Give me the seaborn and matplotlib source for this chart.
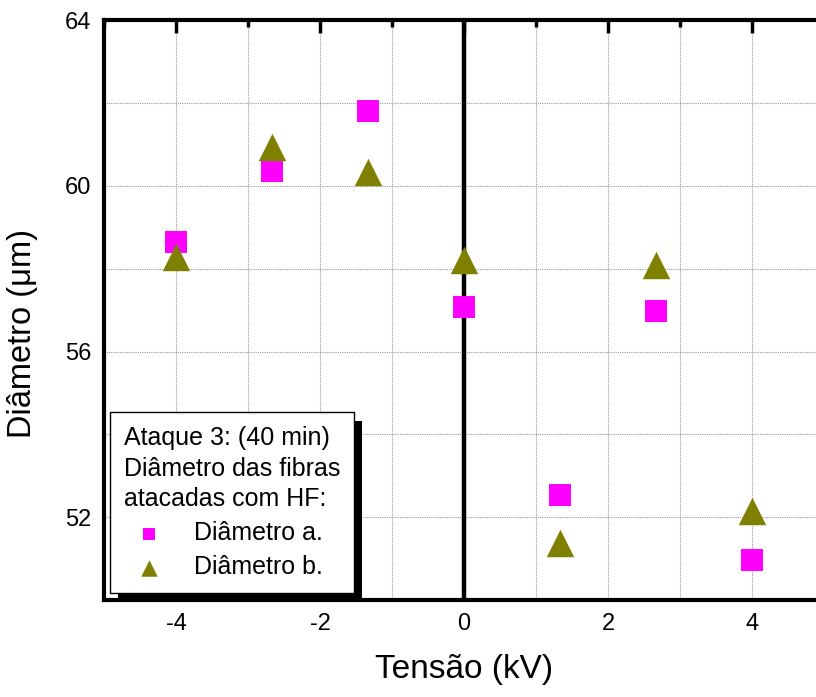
import numpy as np
import pandas as pd
import seaborn as sns
import matplotlib
matplotlib.use("Agg")
import matplotlib.pyplot as plt
from matplotlib import patheffects
from matplotlib.ticker import MultipleLocator

# data
tensao = [-4.0, -2.67, -1.33, 0.0, 1.33, 2.67, 4.0]
diam_a = [58.64, 60.35, 61.80, 57.07, 52.53, 56.97, 50.96]
diam_b = [58.28, 60.94, 60.34, 58.20, 51.37, 58.08, 52.16]

df_a = pd.DataFrame({"Tensao": tensao, "Diametro": diam_a})
df_b = pd.DataFrame({"Tensao": tensao, "Diametro": diam_b})

sns.set_style("white", {"text.color": "black", "axes.labelcolor": "black",
                        "xtick.color": "black", "ytick.color": "black"})
plt.rcParams["font.family"] = ["Liberation Sans", "DejaVu Sans"]
plt.rcParams["axes.unicode_minus"] = False

fig = plt.figure(figsize=(8.16, 6.97), dpi=100)
ax = fig.add_axes([0.1275, 0.139, 0.8824, 0.832])

sns.scatterplot(data=df_a, x="Tensao", y="Diametro", marker="s", s=230,
                color="#ff00ff", edgecolor="#ff00ff", linewidth=0,
                label="Diâmetro a.", ax=ax, zorder=3)
sns.scatterplot(data=df_b, x="Tensao", y="Diametro", marker="^", s=390,
                color="#808000", edgecolor="#808000", linewidth=0,
                label="Diâmetro b.", ax=ax, zorder=3)

ax.axvline(0, color="black", lw=3.2, zorder=2)

ax.set_xlim(-5, 5)
ax.set_ylim(50, 64)
ax.xaxis.set_major_locator(MultipleLocator(2))
ax.xaxis.set_minor_locator(MultipleLocator(1))
ax.yaxis.set_major_locator(MultipleLocator(4))
ax.yaxis.set_minor_locator(MultipleLocator(2))

ax.grid(True, which="both", color="#999999", ls=(0, (1, 1)), lw=0.8)
for s in ax.spines.values():
    s.set_linewidth(3)
    s.set_color("black")

ax.tick_params(which="both", direction="in", top=True, right=False, width=2.5,
               color="black")
ax.tick_params(which="major", length=9, labelsize=17, pad=9)
ax.tick_params(which="minor", length=5)

ax.set_xlabel("Tensão (kV)", fontsize=24, labelpad=14)
ax.set_ylabel("Diâmetro (μm)", fontsize=23.5)
ax.yaxis.set_label_coords(-0.092, 0.459)

leg = ax.legend(title="Ataque 3: (40 min)\nDiâmetro das fibras\natacadas com HF:",
                loc="lower left", bbox_to_anchor=(0.008, 0.012), borderaxespad=0,
                fontsize=18, title_fontsize=18, alignment="left",
                markerscale=0.6, handlelength=2.0, handletextpad=0.8,
                labelspacing=0.4, borderpad=0.55,
                fancybox=False, framealpha=1, edgecolor="black")
leg.get_title().set_multialignment("left")
leg.get_title().set_linespacing(1.35)
frame = leg.get_frame()
frame.set_linewidth(1)
frame.set_path_effects([patheffects.withSimplePatchShadow(
    offset=(6, -6), shadow_rgbFace="black", alpha=1)])
leg.set_zorder(5)

fig.savefig("out.png", dpi=100)
